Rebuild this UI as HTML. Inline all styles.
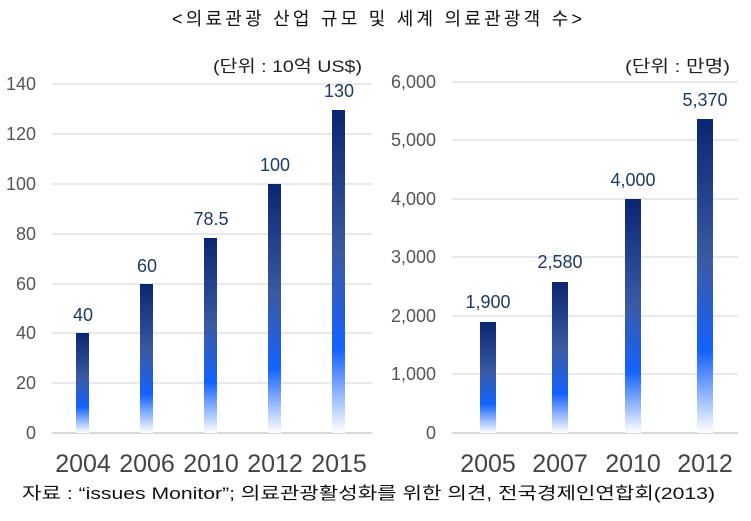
<!DOCTYPE html>
<html><head><meta charset="utf-8"><style>
body{margin:0;background:#fff;}
svg{display:block;font-family:"Liberation Sans","Noto Sans CJK KR",sans-serif;}
</style></head><body>
<svg width="751" height="521" viewBox="0 0 751 521" xmlns="http://www.w3.org/2000/svg">
<defs>
<linearGradient id="g" x1="0" y1="0" x2="0" y2="1">
<stop offset="0" stop-color="#0b2670"/>
<stop offset="0.45" stop-color="#3a5aa4"/>
<stop offset="0.74" stop-color="#1462ff"/>
<stop offset="1" stop-color="#ffffff"/>
</linearGradient>
</defs>
<text x="172" y="25" textLength="410" lengthAdjust="spacing" font-size="18" fill="#111">&lt;의료관광 산업 규모 및 세계 의료관광객 수&gt;</text>
<!-- left -->
<g stroke="#e2e2e2" stroke-width="1.5">
<line x1="52" x2="372" y1="84" y2="84"/><line x1="52" x2="372" y1="134" y2="134"/><line x1="52" x2="372" y1="184" y2="184"/><line x1="52" x2="372" y1="234" y2="234"/><line x1="52" x2="372" y1="284" y2="284"/><line x1="52" x2="372" y1="333" y2="333"/><line x1="52" x2="372" y1="383" y2="383"/><line x1="52" x2="372" y1="433" y2="433" stroke="#ccc"/>
</g>
<g font-size="18" fill="#555" text-anchor="end">
<text x="36" y="90">140</text><text x="36" y="140">120</text><text x="36" y="190">100</text><text x="36" y="240">80</text><text x="36" y="290">60</text><text x="36" y="339">40</text><text x="36" y="389">20</text><text x="36" y="439">0</text>
</g>
<text x="213" y="72" textLength="149" lengthAdjust="spacingAndGlyphs" font-size="17" fill="#222">(단위 : 10억 US$)</text>
<g fill="url(#g)">
<rect x="76" y="333" width="13" height="100"/>
<rect x="140" y="284" width="13" height="149"/>
<rect x="204" y="238" width="13" height="195"/>
<rect x="268" y="184" width="13" height="249"/>
<rect x="332" y="110" width="13" height="323"/>
</g>
<g font-size="18" fill="#1f3a66" text-anchor="middle">
<text x="83" y="321">40</text><text x="147" y="272">60</text><text x="211" y="225">78.5</text><text x="275" y="171">100</text><text x="339" y="97">130</text>
</g>
<g font-size="25" fill="#444" text-anchor="middle">
<text x="83" y="472">2004</text><text x="147" y="472">2006</text><text x="211" y="472">2010</text><text x="275" y="472">2012</text><text x="339" y="472">2015</text>
</g>
<!-- right -->
<g stroke="#e2e2e2" stroke-width="1.5">
<line x1="452" x2="738" y1="82" y2="82"/><line x1="452" x2="738" y1="140" y2="140"/><line x1="452" x2="738" y1="199" y2="199"/><line x1="452" x2="738" y1="257" y2="257"/><line x1="452" x2="738" y1="316" y2="316"/><line x1="452" x2="738" y1="374" y2="374"/><line x1="452" x2="738" y1="433" y2="433" stroke="#ccc"/>
</g>
<g font-size="18" fill="#555" text-anchor="end">
<text x="436" y="88">6,000</text><text x="436" y="146">5,000</text><text x="436" y="205">4,000</text><text x="436" y="263">3,000</text><text x="436" y="322">2,000</text><text x="436" y="380">1,000</text><text x="436" y="439">0</text>
</g>
<text x="625" y="72" textLength="105" lengthAdjust="spacingAndGlyphs" font-size="17" fill="#222">(단위 : 만명)</text>
<g fill="url(#g)">
<rect x="480" y="322" width="16" height="111"/>
<rect x="552" y="282" width="16" height="151"/>
<rect x="625" y="199" width="16" height="234"/>
<rect x="697" y="119" width="16" height="314"/>
</g>
<g font-size="18" fill="#1f3a66" text-anchor="middle">
<text x="488" y="308">1,900</text><text x="560" y="268">2,580</text><text x="633" y="186">4,000</text><text x="705" y="106">5,370</text>
</g>
<g font-size="25" fill="#444" text-anchor="middle">
<text x="488" y="472">2005</text><text x="560" y="472">2007</text><text x="633" y="472">2010</text><text x="705" y="472">2012</text>
</g>
<text x="22" y="499" textLength="693" lengthAdjust="spacingAndGlyphs" font-size="17" fill="#111">자료 : “issues Monitor”; 의료관광활성화를 위한 의견,  전국경제인연합회(2013)</text>
</svg>
</body></html>
